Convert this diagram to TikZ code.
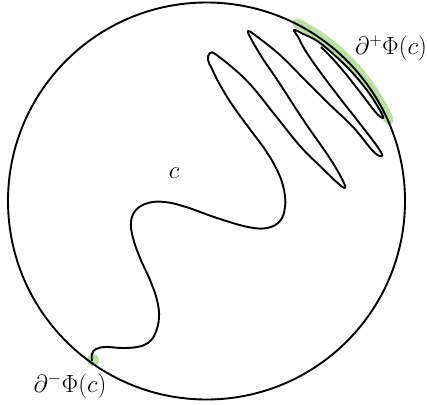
\documentclass[tikz,border=0pt]{standalone}
\definecolor{bandgreen}{RGB}{186,224,166}
\begin{document}
\begin{tikzpicture}[x=1pt,y=-1pt,
  curve/.style={line width=1.9pt, line join=round},
  band/.style={line width=10pt, color=bandgreen, line cap=round},
  lbl/.style={font=\fontsize{24}{28}\selectfont, inner sep=0pt}]
\useasboundingbox (0,0) rectangle (427,404);
\coordinate (C) at (206.5,201);
% green highlights
\draw[band] (C) ++(63:199.5pt) arc[start angle=63,end angle=24,radius=199.5pt];
\fill[bandgreen] (93,360) circle[radius=6pt];
% boundary circle
\draw[curve] (C) circle[radius=198.5pt];
% the curve c
\draw[curve] plot[smooth,tension=0.65] coordinates {
 (92,361) (92,354) (96,349) (106,347) (122,348) (137,347) (148,343) (155,334)
 (159,318) (157,300) (150,280) (140,258) (133,238) (131,222) (136,210) (148,203)
 (165,202) (186,207) (217,218) (248,227) (267,228) (280,221) (285,207) (284,190)
 (278,172) (266,151) (249,128) (233,106) (220,85) (212,69) (208,60)
 (210,53)
 (218,56) (247,81) (275,115) (300,146) (322,168) (337.2,182.6)
 (345,188)
 (342,179) (329,157) (304,121) (278,81) (263,59) (251.6,39.8)
 (248,31)
 (256.1,35.9) (280,55) (304,79) (328,103) (353,127) (373.5,151.6)
 (382,156)
 (377.9,147.4) (361,125) (339,97) (318,69) (305,50) (298.8,38.2)
 (294,30)
 (302.7,33.7) (320,43) (346,66) (366,89) (379.5,109.5)
 (383,118)
 (375.6,112.2) (360,92) (345,73) (332,58) (321,47)
};
% labels
\node[lbl] (dplus) at (391,48) {$\partial^+\Phi(c)$};
\node[lbl] (dminus) at (70,386) {$\partial^-\Phi(c)$};
\node[lbl] (clabel) at (174,173) {$c$};
\end{tikzpicture}
\end{document}
